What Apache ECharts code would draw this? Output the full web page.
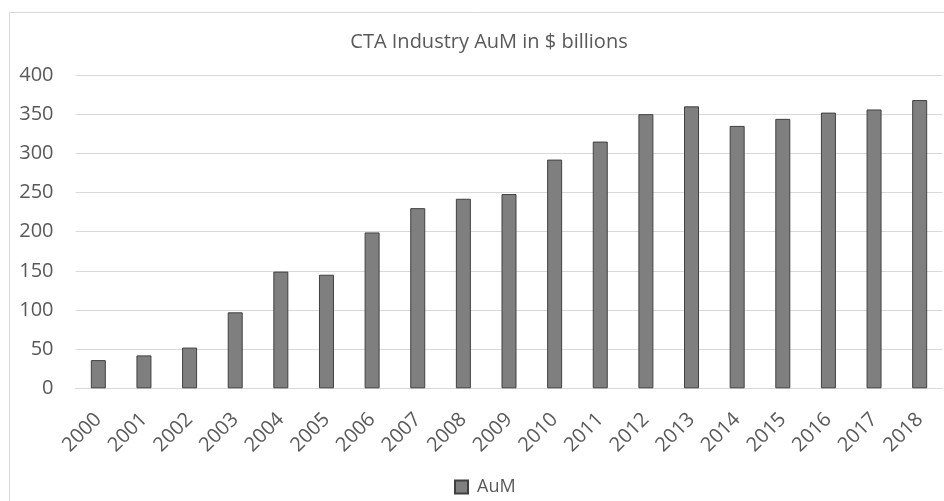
<!DOCTYPE html>
<html>
<head>
<meta charset="utf-8">
<script src="https://cdn.jsdelivr.net/npm/echarts@6/dist/echarts.min.js"></script>
<style>
html,body{margin:0;padding:0;background:#fff;}
#chart{width:944px;height:501px;}
</style>
</head>
<body>
<div id="chart"></div>
<script>
const categories = ['2000','2001','2002','2003','2004','2005','2006','2007','2008','2009','2010','2011','2012','2013','2014','2015','2016','2017','2018'];
const aumValues = [36, 42, 52, 97, 149, 145, 199, 230, 242, 248, 292, 315, 350, 360, 335, 344, 352, 356, 368];
const seriesName = 'AuM';
const titleText = 'CTA Industry AuM in $ billions';

const FONT = '"Open Sans", sans-serif';
const TXT = '#595959';
const chart = echarts.init(document.getElementById('chart'));
chart.setOption({
  animation: false,
  backgroundColor: '#fff',
  title: {
    text: titleText,
    left: 484, top: 27, textAlign: 'center',
    textStyle: {fontFamily: FONT, fontSize: 20, fontWeight: 'normal', color: TXT}
  },
  graphic: [{
    type: 'rect', silent: true, z: -1,
    shape: {x: 9.5, y: 12.5, width: 1000, height: 600},
    style: {fill: 'none', stroke: '#d9d9d9', lineWidth: 1}
  }],
  legend: {
    data: [seriesName],
    left: 449, top: 473,
    itemWidth: 13, itemHeight: 13, itemGap: 6,
    icon: 'rect',
    textStyle: {fontFamily: FONT, fontSize: 18, color: TXT, padding: [0,0,0,4]}
  },
  grid: {left: 75.5, right: 1.5, top: 75, bottom: 112.7, containLabel: false},
  xAxis: {
    type: 'category', data: categories,
    axisLine: {show: true, lineStyle: {color: '#d9d9d9', width: 1}},
    axisTick: {show: false},
    axisLabel: {rotate: 45, margin: 28, fontFamily: FONT, fontSize: 20, color: TXT, interval: 0}
  },
  yAxis: {
    type: 'value', min: 0, max: 400, interval: 50,
    axisLine: {show: false}, axisTick: {show: false},
    splitLine: {lineStyle: {color: '#d9d9d9', width: 1}},
    axisLabel: {margin: 22, fontFamily: FONT, fontSize: 20, color: TXT}
  },
  series: [{
    name: seriesName, type: 'bar', data: aumValues, barWidth: 15,
    itemStyle: {color: '#7f7f7f', borderColor: '#404040', borderWidth: 1}
  }]
});
</script>
</body>
</html>
